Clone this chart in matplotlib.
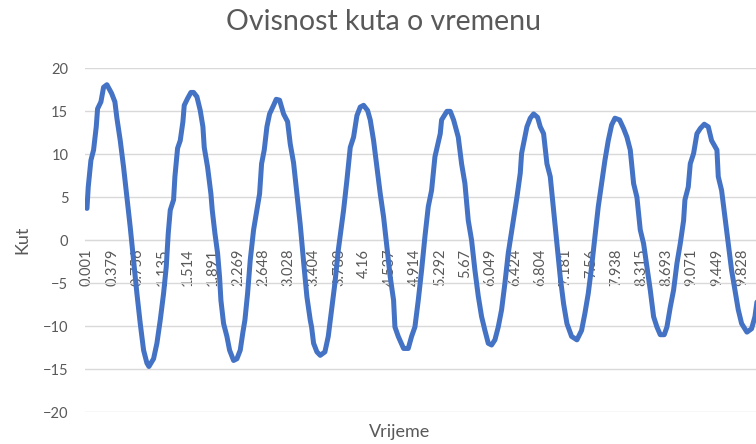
import matplotlib
matplotlib.use("Agg")
import matplotlib.pyplot as plt

# vrijeme (s) i kut, ocitano s grafa
vrijeme = [0.001, 0.02, 0.06, 0.10, 0.14, 0.16, 0.21, 0.25, 0.30, 0.37,
           0.42, 0.45, 0.50, 0.55, 0.60, 0.65, 0.70, 0.75, 0.80, 0.85,
           0.90, 0.93, 1.00, 1.05, 1.10, 1.15, 1.19, 1.22, 1.25, 1.30,
           1.32, 1.36, 1.40, 1.44, 1.46, 1.51, 1.56, 1.60, 1.65, 1.70,
           1.74, 1.76, 1.81, 1.86, 1.88, 1.92, 1.96, 1.99, 2.01, 2.05,
           2.10, 2.14, 2.20, 2.25, 2.30, 2.34, 2.37, 2.41, 2.45, 2.50,
           2.55, 2.59, 2.62, 2.66, 2.70, 2.74, 2.80, 2.84, 2.89, 2.95,
           3.01, 3.05, 3.10, 3.15, 3.20, 3.25, 3.30, 3.35, 3.37, 3.40,
           3.45, 3.50, 3.57, 3.62, 3.67, 3.72, 3.77, 3.85, 3.90, 3.95,
           4.00, 4.05, 4.10, 4.15, 4.21, 4.25, 4.30, 4.35, 4.40, 4.45,
           4.50, 4.55, 4.60, 4.62, 4.67, 4.75, 4.82, 4.87, 4.92, 4.97,
           5.02, 5.07, 5.12, 5.17, 5.22, 5.30, 5.32, 5.40, 5.45, 5.50,
           5.57, 5.62, 5.67, 5.72, 5.77, 5.82, 5.87, 5.92, 5.97, 6.02,
           6.07, 6.12, 6.17, 6.22, 6.27, 6.32, 6.40, 6.45, 6.50, 6.52,
           6.57, 6.60, 6.65, 6.70, 6.76, 6.80, 6.85, 6.90, 6.95, 7.00,
           7.05, 7.10, 7.15, 7.20, 7.27, 7.35, 7.42, 7.47, 7.52, 7.57,
           7.62, 7.67, 7.72, 7.77, 7.82, 7.87, 7.92, 7.99, 8.05, 8.10,
           8.15, 8.20, 8.25, 8.30, 8.35, 8.40, 8.45, 8.50, 8.55, 8.60,
           8.66, 8.70, 8.75, 8.80, 8.85, 8.90, 8.95, 8.97, 9.02, 9.05,
           9.10, 9.15, 9.20, 9.26, 9.32, 9.37, 9.45, 9.47, 9.52, 9.57,
           9.62, 9.67, 9.72, 9.77, 9.82, 9.90, 9.97, 10.02, 10.05]

kut = [3.7, 6.2, 9.3, 10.5, 13.2, 15.3, 16.1, 17.8, 18.1, 17.1,
       16.1, 14.2, 11.6, 8.5, 5.0, 1.5, -2.3, -6.2, -9.7, -12.8,
       -14.3, -14.7, -13.8, -12.0, -9.3, -6.2, -3.1, 0.8, 3.5, 4.7,
       7.4, 10.7, 11.6, 13.8, 15.7, 16.5, 17.2, 17.2, 16.7, 15.1,
       13.2, 10.8, 8.5, 5.4, 3.5, 0.8, -1.5, -4.3, -7.0, -9.7,
       -11.2, -12.8, -14.0, -13.8, -12.8, -10.7, -9.3, -6.2, -2.3, 1.2,
       3.5, 5.4, 8.9, 10.5, 13.2, 14.7, 15.7, 16.4, 16.3, 14.7,
       13.8, 11.2, 9.0, 5.4, 1.8, -2.5, -6.6, -9.3, -10.1, -12.0,
       -13.0, -13.4, -13.0, -11.2, -8.1, -5.0, -1.2, 3.5, 7.0, 10.8,
       12.0, 14.5, 15.5, 15.7, 15.1, 14.0, 11.6, 8.5, 5.4, 2.7,
       -0.8, -4.3, -7.0, -10.1, -11.2, -12.6, -12.6, -11.2, -10.1, -7.0,
       -3.5, 0.4, 3.9, 5.8, 9.7, 12.4, 14.0, 15.0, 15.0, 14.0,
       12.0, 8.9, 6.6, 2.3, 0.0, -3.5, -6.5, -8.9, -10.5, -12.0,
       -12.2, -11.6, -10.1, -8.1, -5.0, -1.5, 2.5, 5.0, 7.8, 10.1,
       12.0, 13.2, 14.2, 14.7, 14.3, 13.2, 12.4, 8.9, 7.4, 3.5,
       -0.4, -4.3, -7.4, -9.7, -11.2, -11.6, -10.5, -8.5, -6.2, -3.1,
       0.4, 3.9, 6.6, 9.3, 11.6, 13.4, 14.2, 14.0, 13.0, 12.0,
       10.5, 6.6, 5.0, 1.2, -0.4, -3.1, -5.8, -8.9, -10.1, -11.0,
       -11.0, -10.1, -7.8, -5.8, -2.7, -0.4, 2.3, 4.7, 6.2, 8.9,
       10.1, 12.4, 13.0, 13.5, 13.2, 11.6, 10.5, 7.4, 5.8, 2.7,
       -0.4, -3.5, -5.8, -8.1, -9.7, -10.7, -10.3, -8.9, -7.2]

oznake = ["0.001", "0.379", "0.756", "1.135", "1.514", "1.891", "2.269",
          "2.648", "3.028", "3.404", "3.783", "4.16", "4.537", "4.914",
          "5.292", "5.67", "6.049", "6.424", "6.804", "7.181", "7.56",
          "7.938", "8.315", "8.693", "9.071", "9.449", "9.828"]

plt.rcParams['font.family'] = ['Lato', 'DejaVu Sans']
siva = '#595959'

fig = plt.figure(figsize=(7.56, 4.44), dpi=100)
ax = fig.add_axes([0.1124, 0.072, 0.8876, 0.774])

ax.plot(vrijeme, kut, color='#4472C4', lw=3.6, solid_joinstyle='round',
        solid_capstyle='round', zorder=3)

ax.set_ylim(-20, 20)
ax.set_xlim(-0.029, 10.036)
ax.set_yticks(range(-20, 21, 5))
ax.grid(axis='y', color='#d9d9d9', lw=1)
ax.set_axisbelow(True)

for s in ['top', 'right', 'left']:
    ax.spines[s].set_visible(False)
ax.spines['bottom'].set_position(('data', 0))
ax.spines['bottom'].set_color('#d9d9d9')
ax.tick_params(axis='both', length=0, labelsize=10.5, labelcolor=siva)
ax.tick_params(axis='x', pad=6)
ax.tick_params(axis='y', pad=12)

ax.set_xticks([float(o) for o in oznake])
ax.set_xticklabels(oznake)
for t in ax.get_xticklabels():
    t.set_rotation(90)
    t.set_va('top')
    t.set_ha('center')

fig.text(0.507, 0.95, 'Ovisnost kuta o vremenu', ha='center', va='center',
         fontsize=20.5, color=siva)
fig.text(0.029, 0.459, 'Kut', rotation=90, ha='center', va='center',
         fontsize=13, color=siva)
fig.text(0.529, 0.027, 'Vrijeme', ha='center', va='center',
         fontsize=13, color=siva)

fig.savefig('out.png', dpi=100)
